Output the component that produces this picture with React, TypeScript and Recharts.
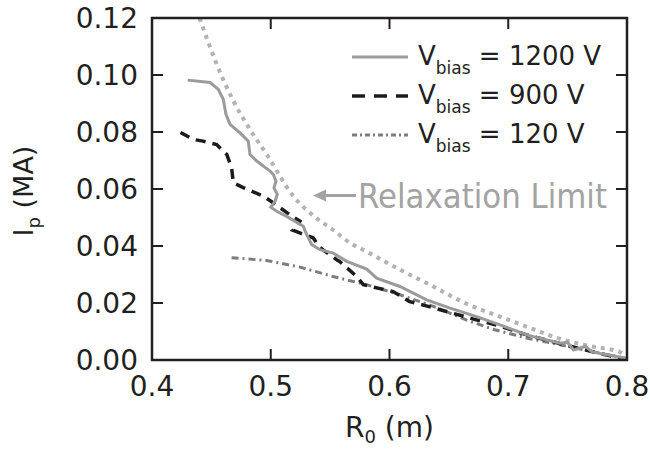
import { LineChart, Line, XAxis, YAxis } from "recharts";

// V_bias = 1200 V (solid gray)
const r1200 = [
  0.4301, 0.4488, 0.4558, 0.46, 0.4623, 0.4657, 0.4741, 0.4811, 0.4825, 0.4882, 0.4994, 0.5022,
  0.5044, 0.5027, 0.5055, 0.5036, 0.5, 0.505, 0.5134, 0.5274, 0.5303, 0.5345, 0.5415, 0.5527,
  0.564, 0.5808, 0.5892, 0.6088, 0.6313, 0.651, 0.6734, 0.693, 0.7155, 0.7436, 0.75, 0.755,
  0.765, 0.77, 0.7773, 0.7941, 0.8,
];
const ip1200 = [
  0.0982, 0.0974, 0.095, 0.0915, 0.0862, 0.0827, 0.0797, 0.0768, 0.0721, 0.0698, 0.0663, 0.0651,
  0.0627, 0.0604, 0.0581, 0.0557, 0.0536, 0.0522, 0.0504, 0.0469, 0.044, 0.0405, 0.0387, 0.0375,
  0.0346, 0.0319, 0.0287, 0.0258, 0.0211, 0.0182, 0.0152, 0.0123, 0.0088, 0.0059, 0.0062, 0.0035,
  0.0048, 0.003, 0.0023, 0.001, 0.0005,
];

// V_bias = 900 V (dashed black)
const r900 = [
  0.424, 0.4347, 0.443, 0.4545, 0.463, 0.467, 0.4685, 0.4768, 0.4936, 0.502, 0.516, 0.5246,
  0.521, 0.519, 0.525, 0.5356, 0.5415, 0.5555, 0.558, 0.5724, 0.578, 0.603, 0.617, 0.631, 0.648,
  0.673, 0.69, 0.7155, 0.732, 0.76, 0.78, 0.8,
];
const ip900 = [
  0.0798, 0.0774, 0.0768, 0.0756, 0.0721, 0.0675, 0.0622, 0.0605, 0.0575, 0.0552, 0.051, 0.0487,
  0.046, 0.0455, 0.0445, 0.0429, 0.0394, 0.0352, 0.0346, 0.0293, 0.0264, 0.024, 0.0205, 0.019, 0.017,
  0.0141, 0.0123, 0.0088, 0.007, 0.004, 0.002, 0.0003,
];

// V_bias = 120 V (dash-dot gray)
const r120 = [0.467, 0.4966, 0.5246, 0.5524, 0.5808, 0.6088, 0.637, 0.665, 0.687, 0.7155, 0.745, 0.77, 0.8];
const ip120 = [0.0359, 0.0349, 0.0326, 0.0293, 0.0264, 0.0229, 0.0188, 0.014, 0.0108, 0.0077, 0.0052, 0.003, 0.0005];

// relaxation limit (dotted light gray)
const rRelax = [
  0.44, 0.4545, 0.4685, 0.4825, 0.4966, 0.519, 0.5387, 0.5524, 0.5667, 0.5808, 0.6088, 0.6368,
  0.665, 0.693, 0.718, 0.7436, 0.77, 0.794, 0.8,
];
const ipRelax = [
  0.12, 0.1038, 0.0909, 0.0809, 0.0721, 0.0575, 0.0497, 0.0457, 0.0411, 0.038, 0.0317, 0.0258,
  0.0197, 0.0152, 0.0113, 0.0074, 0.0048, 0.0028, 0.0015,
];

const xTicks = [0.4, 0.5, 0.6, 0.7, 0.8];
const yTicks = [0, 0.02, 0.04, 0.06, 0.08, 0.1, 0.12];

const legendLabels = ["1200", "900", "120"];
const annotationText = "Relaxation Limit";
const annotationAt = { r: 0.5356, ip: 0.0577 };

const toRows = (xs: number[], ys: number[]) => xs.map((r, i) => ({ r, ip: ys[i] }));

const data1200 = toRows(r1200, ip1200);
const data900 = toRows(r900, ip900);
const data120 = toRows(r120, ip120);
const dataRelax = toRows(rRelax, ipRelax);

const W = 650;
const H = 449;
const PLOT = { left: 152, top: 18, width: 475, height: 342 };

const INK = "#231f20";
const FONT = "DejaVu Sans";
const TICK = 11;

const X_MIN = xTicks[0];
const X_MAX = xTicks[xTicks.length - 1];
const Y_MIN = yTicks[0];
const Y_MAX = yTicks[yTicks.length - 1];

// same linear mapping as the chart's plot box, for the frame overlay
const sx = (v: number) => PLOT.left + ((v - X_MIN) / (X_MAX - X_MIN)) * PLOT.width;
const sy = (v: number) => PLOT.top + (1 - (v - Y_MIN) / (Y_MAX - Y_MIN)) * PLOT.height;

const lineStyles = [
  { stroke: "#9b9b9b", strokeWidth: 3, dash: undefined },
  { stroke: "#1c1c1c", strokeWidth: 3.5, dash: "10 7" },
  { stroke: "#7d7d7d", strokeWidth: 3, dash: "7 4 2 4" },
];

const LeftTick = (props: any) => {
  const { x, y, payload } = props;
  return (
    <text x={x - 14} y={y} textAnchor="end" dominantBaseline="central" fontFamily={FONT} fontSize={28} fill={INK}>
      {Number(payload.value).toFixed(2)}
    </text>
  );
};

const BottomTick = (props: any) => {
  const { x, y, payload } = props;
  return (
    <text x={x} y={y + 26} textAnchor="middle" dominantBaseline="central" fontFamily={FONT} fontSize={28} fill={INK}>
      {Number(payload.value).toFixed(1)}
    </text>
  );
};

const YLabel = (props: any) => {
  const { viewBox } = props;
  const cx = viewBox.x + 33;
  const cy = viewBox.y + viewBox.height / 2 + 2;
  return (
    <text x={cx} y={cy} transform={`rotate(-90, ${cx}, ${cy})`} textAnchor="middle" fontFamily={FONT} fontSize={27} fill={INK}>
      <tspan>I</tspan>
      <tspan fontSize={18} dy={7}>p</tspan>
      <tspan dy={-7}> (MA)</tspan>
    </text>
  );
};

const XLabel = (props: any) => {
  const { viewBox } = props;
  const cx = viewBox.x + viewBox.width / 2;
  return (
    <text x={cx} y={viewBox.y + 77} textAnchor="middle" fontFamily={FONT} fontSize={28} fill={INK}>
      <tspan>R</tspan>
      <tspan fontSize={18} dy={6}>0</tspan>
      <tspan dy={-6}> (m)</tspan>
    </text>
  );
};

// frame with inward ticks, legend and annotation
const Overlay = () => {
  const inX = xTicks.slice(1, -1);
  const inY = yTicks.slice(1, -1);
  const x0 = sx(X_MIN);
  const x1 = sx(X_MAX);
  const y0 = sy(Y_MIN);
  const y1 = sy(Y_MAX);
  const ax = sx(annotationAt.r);
  const ay = sy(annotationAt.ip);
  return (
    <svg width={W} height={H} style={{ position: "absolute", left: 0, top: 0, pointerEvents: "none" }}>
      <rect x={x0} y={y1} width={x1 - x0} height={y0 - y1} fill="none" stroke={INK} strokeWidth={2.5} />
      {inX.map((t) => (
        <rect key={`xb${t}`} x={sx(t) - 1} y={y0 - TICK} width={2} height={TICK} fill={INK} />
      ))}
      {inX.map((t) => (
        <rect key={`xt${t}`} x={sx(t) - 1} y={y1} width={2} height={TICK} fill={INK} />
      ))}
      {inY.map((t) => (
        <rect key={`yl${t}`} x={x0} y={sy(t) - 1} width={TICK} height={2} fill={INK} />
      ))}
      {inY.map((t) => (
        <rect key={`yr${t}`} x={x1 - TICK} y={sy(t) - 1} width={TICK} height={2} fill={INK} />
      ))}

      <g transform="translate(345, 35)">
        {legendLabels.map((v, i) => {
          const st = lineStyles[i];
          const ly = 22 + i * 39;
          return (
            <g key={v}>
              <line
                x1={7}
                x2={63}
                y1={ly}
                y2={ly}
                stroke={st.stroke}
                strokeWidth={st.strokeWidth}
                strokeDasharray={i === 1 ? "13 9" : i === 2 ? "5 3 2 3" : undefined}
              />
              <text x={73} y={ly + 8} fontFamily={FONT} fontSize={26} fill={INK}>
                <tspan>V</tspan>
                <tspan fontSize={17} dy={9}>bias</tspan>
                <tspan dy={-9}>{` = ${v} V`}</tspan>
              </text>
            </g>
          );
        })}
      </g>

      <polygon points={`${ax},${ay} ${ax + 13},${ay - 6} ${ax + 13},${ay + 6}`} fill="#a3a3a3" />
      <line x1={ax + 10} y1={ay} x2={ax + 43} y2={ay} stroke="#a3a3a3" strokeWidth={3} />
      <text
        x={ax + 45}
        y={ay + 12}
        fontFamily={FONT}
        fontSize={34}
        fill="#a3a3a3"
        textLength={249}
        lengthAdjust="spacingAndGlyphs"
      >
        {annotationText}
      </text>
    </svg>
  );
};

export default function App() {
  return (
    <div style={{ position: "absolute", left: 0, top: 0, width: W, height: H, background: "#fff" }}>
      <LineChart
        width={W}
        height={H}
        margin={{ top: PLOT.top, right: W - PLOT.left - PLOT.width, bottom: 0, left: 0 }}
      >
        <XAxis
          dataKey="r"
          type="number"
          domain={[X_MIN, X_MAX]}
          ticks={xTicks}
          allowDataOverflow
          height={H - PLOT.top - PLOT.height}
          tickSize={0}
          tickMargin={0}
          tickLine={false}
          tick={<BottomTick />}
          axisLine={{ stroke: INK, strokeWidth: 2 }}
          label={<XLabel />}
        />
        <YAxis
          type="number"
          domain={[Y_MIN, Y_MAX]}
          ticks={yTicks}
          allowDataOverflow
          width={PLOT.left}
          tickSize={0}
          tickMargin={0}
          tickLine={false}
          tick={<LeftTick />}
          axisLine={{ stroke: INK, strokeWidth: 2 }}
          label={<YLabel />}
        />
        <Line
          data={dataRelax}
          dataKey="ip"
          type="monotone"
          stroke="#b3b3b3"
          strokeWidth={4}
          strokeDasharray="4 5"
          dot={false}
          isAnimationActive={false}
        />
        <Line
          data={data120}
          dataKey="ip"
          type="linear"
          stroke={lineStyles[2].stroke}
          strokeWidth={lineStyles[2].strokeWidth}
          strokeDasharray={lineStyles[2].dash}
          dot={false}
          isAnimationActive={false}
        />
        <Line
          data={data900}
          dataKey="ip"
          type="linear"
          stroke={lineStyles[1].stroke}
          strokeWidth={lineStyles[1].strokeWidth}
          strokeDasharray={lineStyles[1].dash}
          dot={false}
          isAnimationActive={false}
        />
        <Line
          data={data1200}
          dataKey="ip"
          type="linear"
          stroke={lineStyles[0].stroke}
          strokeWidth={lineStyles[0].strokeWidth}
          dot={false}
          isAnimationActive={false}
        />
      </LineChart>
      <Overlay />
    </div>
  );
}
